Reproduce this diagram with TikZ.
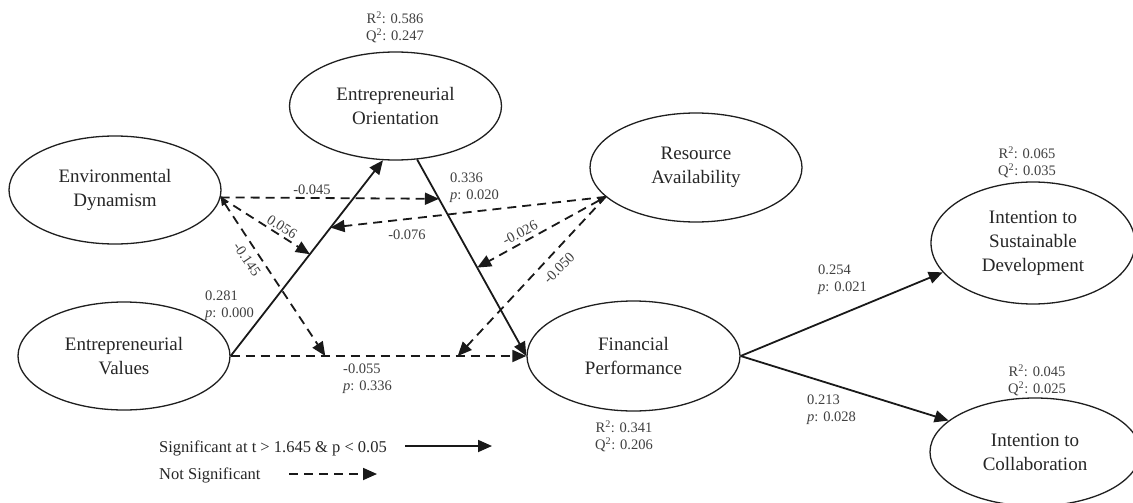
\documentclass[tikz,border=0pt]{standalone}
\usepackage{fontspec}
\setmainfont{Liberation Serif}
\usetikzlibrary{shapes.geometric,arrows.meta}
\begin{document}
\begin{tikzpicture}[x=1pt,y=-1pt,
  lv/.style={ellipse,draw=black!88,line width=1.3pt,inner sep=0pt,minimum width=212pt,minimum height=108pt,align=center,font=\fontsize{19}{24}\selectfont,text=black!85},
  sm/.style={font=\fontsize{14.5}{17}\selectfont,text=black!75,inner sep=0pt},
  lg/.style={font=\fontsize{16.5}{20}\selectfont,text=black!85,inner sep=0pt,anchor=west},
  sig/.style={line width=1.8pt,draw=black!90,-{Triangle[length=14pt,width=12pt]}},
  nsig/.style={line width=1.8pt,draw=black!90,dash pattern=on 9pt off 6pt,-{Triangle[length=14pt,width=12pt]}},
]
\useasboundingbox (0,0) rectangle (1133,503);
\fill[white] (0,0) rectangle (1133,503);

% latent variables
\node[lv] (ed) at (115,190) {Environmental\\Dynamism};
\node[lv] (eo) at (395.5,106) {Entrepreneurial\\Orientation};
\node[lv] (ev) at (124,356) {Entrepreneurial\\Values};
\node[lv,minimum height=109pt] (ra) at (696,167.5) {Resource\\Availability};
\node[lv,minimum height=110pt,minimum width=213pt] (fp) at (633.5,356) {Financial\\Performance};
\node[lv,minimum width=204pt,minimum height=122pt] (isd) at (1033,243) {Intention to\\Sustainable\\Development};
\node[lv,minimum width=210pt] (ic) at (1035,452) {Intention to\\Collaboration};

% R2 / Q2
\node[sm,align=center] (eor) at (395,27) {R\textsuperscript{2}: 0.586\\Q\textsuperscript{2}: 0.247};
\node[sm,align=center] (isdr) at (1027,162) {R\textsuperscript{2}: 0.065\\Q\textsuperscript{2}: 0.035};
\node[sm,align=center] (icr) at (1037,380) {R\textsuperscript{2}: 0.045\\Q\textsuperscript{2}: 0.025};
\node[sm,align=center] (fpr) at (624,436) {R\textsuperscript{2}: 0.341\\Q\textsuperscript{2}: 0.206};

% points on the main paths (moderation targets)
\path (ev.east) -- (eo.257) coordinate[pos=0.52] (m1) coordinate[pos=0.656] (m2);
\path (eo.292) -- (fp.west) coordinate[pos=0.2] (m3) coordinate[pos=0.55] (m4);
\path (ev.east) -- (fp.west) coordinate[pos=0.32] (m5) coordinate[pos=0.768] (m6);

% significant paths
\draw[sig] (ev.east) -- (eo.257);
\draw[sig] (eo.292) -- (fp.west);
\draw[sig] (fp.east) -- (isd.198);
\draw[sig] (fp.east) -- (ic.160);

% not significant paths
\draw[nsig] (ev.east) -- (fp.west);
\draw[nsig] (ed.-4) -- (m3);
\draw[nsig] (ed.-4) -- (m1);
\draw[nsig,{Triangle[length=8pt,width=7pt]}-{Triangle[length=14pt,width=12pt]}] (ed.-4) -- (m5);
\draw[nsig] (ra.198) -- (m2);
\draw[nsig,{Triangle[length=8pt,width=7pt]}-{Triangle[length=14pt,width=12pt]}] (ra.198) -- (m4);
\draw[nsig] (ra.198) -- (m6);

% path labels
\node[sm,align=left,anchor=west] (l1) at (205,306) {0.281\\\textit{p}: 0.000};
\node[sm,align=left,anchor=west] (l2) at (450,188) {0.336\\\textit{p}: 0.020};
\node[sm,align=left,anchor=west] (l3) at (343,379) {-0.055\\\textit{p}: 0.336};
\node[sm,align=left,anchor=west] (l4) at (818,280) {0.254\\\textit{p}: 0.021};
\node[sm,align=left,anchor=west] (l5) at (807,410) {0.213\\\textit{p}: 0.028};
\node[sm] (l6) at (312,190) {-0.045};
\node[sm,rotate=-33] (l7) at (282,227) {0.056};
\node[sm,rotate=-56] (l8) at (247,259) {-0.145};
\node[sm] (l9) at (407,235) {-0.076};
\node[sm,rotate=27.5] (l10) at (520,233) {-0.026};
\node[sm,rotate=45] (l11) at (559,268) {-0.050};

% legend
\node[lg] (lgs) at (159,448) {Significant at t > 1.645 \& p < 0.05};
\node[lg] (lgn) at (159,475) {Not Significant};
\coordinate (ls1) at (405,446);
\coordinate (ls2) at (492,446);
\coordinate (ln1) at (289,474);
\coordinate (ln2) at (377,474);
\draw[sig] (ls1) -- (ls2);
\draw[nsig] (ln1) -- (ln2);
\end{tikzpicture}
\end{document}
